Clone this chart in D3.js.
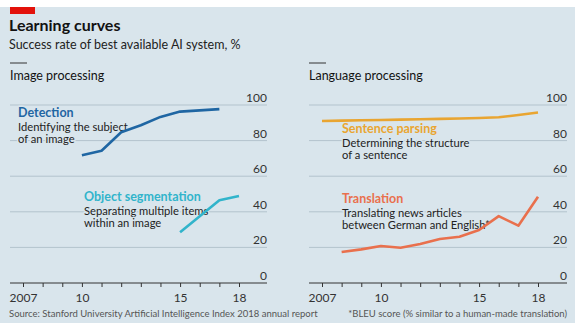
<!DOCTYPE html>
<html>
<head>
<meta charset="utf-8">
<script src="https://cdn.jsdelivr.net/npm/d3@7"></script>
<style>
  body { margin: 0; background: #fff; }
  svg { font-family: Lato, "Open Sans", sans-serif; }
</style>
</head>
<body>
<div id="chart"></div>
<script>
// data
const years = [2007, 2008, 2009, 2010, 2011, 2012, 2013, 2014, 2015, 2016, 2017, 2018];
const yTicks = [0, 20, 40, 60, 80, 100];
const xTickLabels = [2007, 2010, 2015, 2018];

const detection = [
  { year: 2010, value: 71.8 }, { year: 2011, value: 74.3 }, { year: 2012, value: 84.7 },
  { year: 2013, value: 88.6 }, { year: 2014, value: 93.3 }, { year: 2015, value: 96.3 },
  { year: 2016, value: 97.0 }, { year: 2017, value: 97.7 }
];
const segmentation = [
  { year: 2015, value: 28.5 }, { year: 2017, value: 46.5 }, { year: 2018, value: 48.9 }
];
const parsing = [
  { year: 2007, value: 91.0 }, { year: 2008, value: 91.2 }, { year: 2009, value: 91.4 },
  { year: 2010, value: 91.6 }, { year: 2011, value: 91.8 }, { year: 2012, value: 92.0 },
  { year: 2013, value: 92.2 }, { year: 2014, value: 92.4 }, { year: 2015, value: 92.7 },
  { year: 2016, value: 93.1 }, { year: 2017, value: 94.4 }, { year: 2018, value: 95.8 }
];
const translation = [
  { year: 2008, value: 17.4 }, { year: 2009, value: 18.9 }, { year: 2010, value: 20.8 },
  { year: 2011, value: 19.8 }, { year: 2012, value: 21.9 }, { year: 2013, value: 24.7 },
  { year: 2014, value: 26.0 }, { year: 2015, value: 29.8 }, { year: 2016, value: 37.6 },
  { year: 2017, value: 32.2 }, { year: 2018, value: 48.5 }
];

const bg = "#d9e5ec";
const width = 580, height = 328;

const svg = d3.select("#chart").append("svg")
  .attr("width", width).attr("height", height);

svg.append("rect").attr("x", 0).attr("y", 7).attr("width", 575).attr("height", 316).attr("fill", bg);
svg.append("rect").attr("x", 10).attr("y", 7).attr("width", 25).attr("height", 7).attr("fill", "#e3120b");

svg.append("text").attr("x", 9).attr("y", 31)
  .style("font-size", "16px").style("font-weight", "bold").attr("fill", "#121212")
  .text("Learning curves");
svg.append("text").attr("x", 9).attr("y", 49)
  .style("font-size", "12.5px").attr("fill", "#222")
  .text("Success rate of best available AI system, %");

const y = d3.scaleLinear().domain([0, 100]).range([283, 105]);

function panel(x0, x1, title, series) {
  let g = svg.append("g");

  g.append("line").attr("x1", x0).attr("x2", x0 + 17).attr("y1", 63).attr("y2", 63)
    .attr("stroke", "#333").attr("stroke-width", 1);
  g.append("text").attr("x", x0).attr("y", 80)
    .style("font-size", "12.5px").attr("fill", "#121212").text(title);

  let x = d3.scaleLinear().domain([2007, 2018]).range([x0 + 13, x0 + 229]);

  // gridlines + labels
  g.selectAll(".grid").data(yTicks.filter(d => d > 0)).enter().append("line")
    .attr("x1", x0).attr("x2", x1)
    .attr("y1", d => y(d)).attr("y2", d => y(d))
    .attr("stroke", "#b3c3cd").attr("stroke-width", 1);
  g.selectAll(".ylab").data(yTicks).enter().append("text")
    .attr("x", x1).attr("y", d => y(d) - 3)
    .attr("text-anchor", "end").style("font-size", "12px").attr("fill", "#333")
    .text(d => d);

  // x axis
  let xAxis = d3.axisBottom(x).tickValues(years).tickSize(4).tickPadding(6)
    .tickFormat(d => xTickLabels.includes(d) ? (d === 2007 ? "2007" : String(d).slice(2)) : "");
  let ax = g.append("g").attr("transform", `translate(0, ${y(0)})`).call(xAxis);
  ax.select(".domain").remove();
  ax.selectAll(".tick line").attr("stroke", "#333");
  ax.selectAll(".tick text").style("font-size", "12px").attr("fill", "#333")
    .style("font-family", "Lato, sans-serif");
  g.append("line").attr("x1", x0).attr("x2", x1).attr("y1", y(0)).attr("y2", y(0))
    .attr("stroke", "#333").attr("stroke-width", 1);

  let line = d3.line().x(d => x(d.year)).y(d => y(d.value));

  // annotations first, with a halo so gridlines break around them
  series.forEach(s => {
    let t = g.append("text").attr("x", s.lx).attr("y", s.ly)
      .style("paint-order", "stroke").attr("stroke", bg).attr("stroke-width", 3)
      .attr("stroke-linejoin", "round");
    t.append("tspan").attr("x", s.lx).attr("dy", 0)
      .style("font-size", "12.5px").style("font-weight", "bold").attr("fill", s.color)
      .text(s.name);
    s.desc.forEach((d, i) => {
      t.append("tspan").attr("x", s.lx).attr("dy", i === 0 ? 14 : 12)
        .style("font-size", "11.2px").attr("fill", "#222").text(d);
    });
  });

  series.forEach(s => {
    g.append("path").datum(s.data)
      .attr("d", line).attr("fill", "none")
      .attr("stroke", s.color).attr("stroke-width", 2.6)
      .attr("stroke-linejoin", "round");
  });
}

panel(10, 267, "Image processing", [
  { name: "Detection", desc: ["Identifying the subject", "of an image"], color: "#1f66a3",
    data: detection, lx: 18, ly: 117 },
  { name: "Object segmentation", desc: ["Separating multiple items", "within an image"], color: "#31b4cb",
    data: segmentation, lx: 84, ly: 201 }
]);

panel(309, 567, "Language processing", [
  { name: "Sentence parsing", desc: ["Determining the structure", "of a sentence"], color: "#e9a531",
    data: parsing, lx: 342, ly: 133 },
  { name: "Translation", desc: ["Translating news articles", "between German and English*"], color: "#e9704d",
    data: translation, lx: 342, ly: 203 }
]);

svg.append("text").attr("x", 9).attr("y", 317)
  .style("font-size", "9.5px").attr("fill", "#555")
  .text("Source: Stanford University Artificial Intelligence Index 2018 annual report");
svg.append("text").attr("x", 567).attr("y", 317).attr("text-anchor", "end")
  .style("font-size", "9.5px").attr("fill", "#555")
  .text("*BLEU score (% similar to a human-made translation)");
</script>
</body>
</html>
